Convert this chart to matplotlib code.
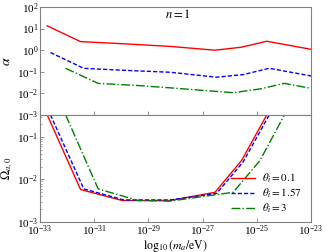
import numpy as np
import matplotlib
matplotlib.use("Agg")
import matplotlib.pyplot as plt

plt.rcParams['font.family'] = ['Liberation Serif', 'DejaVu Serif']
plt.rcParams['mathtext.fontset'] = 'stix'

# log10(m_a/eV) grid for each curve
m_r = [-32.73, -31.50, -29.96, -28.20, -26.54, -25.56, -24.63, -23.0]
m_b = [-32.61, -31.38, -29.90, -28.20, -26.48, -25.50, -24.54, -23.0]
m_g = [-32.05, -30.85, -29.38, -28.20, -25.87, -24.88, -23.98, -23.0]

alpha_r = [13.5, 2.5, 2.0, 1.5, 1.0, 1.38, 2.6, 1.1]
alpha_b = [0.78, 0.144, 0.117, 0.095, 0.056, 0.074, 0.145, 0.064]
alpha_g = [0.144, 0.029, 0.023, 0.018, 0.0107, 0.016, 0.029, 0.017]

omega_r = [0.33, 0.0058, 0.0032, 0.0032, 0.0050, 0.028, 0.33, 0.33]
omega_b = [0.33, 0.0060, 0.0033, 0.0033, 0.0047, 0.026, 0.33, 0.33]
omega_g = [0.33, 0.0060, 0.0032, 0.0031, 0.0050, 0.028, 0.33, 0.33]

labels = [r'$\theta_i=0.1$', r'$\theta_i=1.57$', r'$\theta_i=3$']

fig = plt.figure(figsize=(3.27, 2.52), dpi=100)
ax1 = fig.add_axes([0.122, 0.544, 0.829, 0.428])
ax2 = fig.add_axes([0.122, 0.119, 0.829, 0.425], sharex=ax1)

styles = [('red', '-'), ('blue', (0, (3, 1.5))), ('green', '-.')]
ms = [m_r, m_b, m_g]
alphas = [alpha_r, alpha_b, alpha_g]
omegas = [omega_r, omega_b, omega_g]

for m, a, o, (c, ls), lab in zip(ms, alphas, omegas, styles, labels):
    x = 10.0 ** np.array(m)
    ax1.plot(x, a, color=c, ls=ls, lw=1)
    ax2.plot(x, o, color=c, ls=ls, lw=1, label=lab)

for ax in (ax1, ax2):
    ax.set_xscale('log')
    ax.set_yscale('log')
    ax.tick_params(direction='in', labelsize=8, width=0.6, length=3, color='gray', pad=1)
    ax.tick_params(which='minor', direction='in', width=0.5, length=1.5, color='gray')
    for s in ax.spines.values():
        s.set_color('gray')

ax1.set_xlim(1e-33, 1e-23)
ax1.set_ylim(1e-3, 1e2)
ax2.set_ylim(1e-3, 0.33)
ax1.tick_params(labelbottom=False)
ax1.set_xticks([1e-33, 1e-31, 1e-29, 1e-27, 1e-25, 1e-23])
ax1.set_yticks([1e-3, 1e-2, 1e-1, 1e0, 1e1, 1e2])
ax2.set_yticks([1e-3, 1e-2, 1e-1])

ax1.text(0.51, 0.93, r'$n=1$', transform=ax1.transAxes, ha='center', va='center', fontsize=9)
ax1.set_ylabel(r'$\alpha$', fontsize=10)
ax2.set_ylabel(r'$\Omega_{a,0}$', fontsize=9)
ax1.yaxis.set_label_coords(-0.1, 0.5)
ax2.yaxis.set_label_coords(-0.09, 0.5)
ax2.set_xlabel(r'$\log_{10}(m_a/\mathrm{eV})$', fontsize=8.5)
ax2.xaxis.set_label_coords(0.5, -0.145)

ax2.legend(loc='lower right', frameon=False, fontsize=8, handlelength=2.2,
           labelspacing=0.15, handletextpad=0.6, borderaxespad=0.2,
           bbox_to_anchor=(0.99, 0.0))

fig.savefig('out.png', dpi=100)
